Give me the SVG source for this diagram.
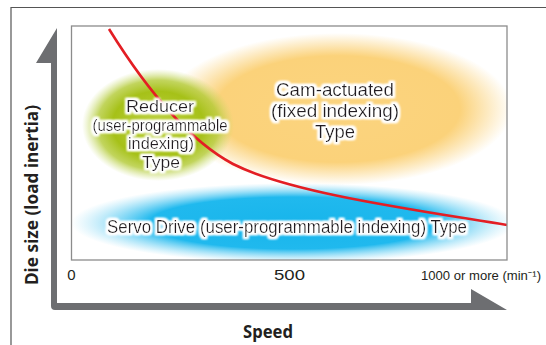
<svg xmlns="http://www.w3.org/2000/svg" width="546" height="345" viewBox="0 0 546 345">
<style>
  .lbl{font-family:"Liberation Sans","Noto Sans",sans-serif;fill:#231f20;text-anchor:middle}
  .axis-t{font-family:"Noto Sans","Liberation Sans",sans-serif;font-weight:bold;fill:#231f20;text-anchor:middle}
  .tick{font-family:"Liberation Sans","Noto Sans","DejaVu Sans",sans-serif;fill:#231f20}
</style>
<defs>
  <radialGradient id="gY" cx="0.5" cy="0.5" r="0.5">
    <stop offset="0" stop-color="#fbd47f"/>
    <stop offset="0.7" stop-color="#fbd27a"/>
    <stop offset="1" stop-color="#fbd27a" stop-opacity="0"/>
  </radialGradient>
  <radialGradient id="gG" cx="0.5" cy="0.5" r="0.5">
    <stop offset="0" stop-color="#c0d346"/>
    <stop offset="0.6" stop-color="#a6c118"/>
    <stop offset="0.8" stop-color="#b2ca34" stop-opacity="0.8"/>
    <stop offset="1" stop-color="#c8db6a" stop-opacity="0"/>
  </radialGradient>
  <radialGradient id="gB" cx="0.5" cy="0.5" r="0.5">
    <stop offset="0" stop-color="#18b5eb"/>
    <stop offset="0.65" stop-color="#20b9ee"/>
    <stop offset="1" stop-color="#7fd6f5" stop-opacity="0"/>
  </radialGradient>
  <clipPath id="plotClip"><rect x="71.5" y="26" width="435.5" height="234"/></clipPath>
  <filter id="glow" x="-15%" y="-40%" width="130%" height="180%">
    <feMorphology in="SourceAlpha" operator="dilate" radius="1.5" result="d"/>
    <feGaussianBlur in="d" stdDeviation="1.3" result="b"/>
    <feFlood flood-color="#ffffff"/>
    <feComposite in2="b" operator="in" result="w"/>
    <feMerge><feMergeNode in="w"/><feMergeNode in="w"/><feMergeNode in="SourceGraphic"/></feMerge>
  </filter>
</defs>

<rect width="546" height="345" fill="#ffffff"/>

<g id="frame" stroke="#555" stroke-width="1.2" fill="none">
  <path d="M11,345 L11,7.5 L546,7.5"/>
</g>

<g id="plot-area">
  <rect x="71.5" y="26" width="435.5" height="234" fill="#ffffff"/>
</g>

<g id="regions" clip-path="url(#plotClip)">
  <ellipse id="cam-region" cx="338" cy="109" rx="174" ry="76" fill="url(#gY)"/>
  <ellipse id="reducer-region" cx="158" cy="125" rx="76" ry="56" fill="url(#gG)"/>
  <ellipse id="servo-region" cx="293" cy="223" rx="222" ry="40" fill="url(#gB)"/>
</g>

<g id="connectors">
  <path id="limit-curve" d="M109,29 C150,95 192,142 233,164 C290,193 416,210 507,225" fill="none" stroke="#e31e24" stroke-width="2.6" clip-path="url(#plotClip)"/>
</g>

<g id="plot-border">
  <rect x="71.5" y="26" width="435.5" height="234" fill="none" stroke="#8c8c8c" stroke-width="1.3"/>
</g>

<g id="node-reducer" filter="url(#glow)">
  <text class="lbl" x="160" y="112" font-size="16.5" textLength="68" lengthAdjust="spacingAndGlyphs">Reducer</text>
  <text class="lbl" x="160" y="131" font-size="16.5" textLength="135" lengthAdjust="spacingAndGlyphs">(user-programmable</text>
  <text class="lbl" x="161" y="149" font-size="16.5" textLength="66" lengthAdjust="spacingAndGlyphs">indexing)</text>
  <text class="lbl" x="161" y="168" font-size="16.5" textLength="38" lengthAdjust="spacingAndGlyphs">Type</text>
</g>

<g id="node-cam" filter="url(#glow)">
  <text class="lbl" x="335" y="96" font-size="18" textLength="118" lengthAdjust="spacingAndGlyphs">Cam-actuated</text>
  <text class="lbl" x="335" y="117" font-size="18" textLength="128" lengthAdjust="spacingAndGlyphs">(fixed indexing)</text>
  <text class="lbl" x="335" y="138" font-size="18" textLength="40" lengthAdjust="spacingAndGlyphs">Type</text>
</g>

<g id="node-servo" filter="url(#glow)">
  <text class="lbl" x="287" y="233" font-size="18" textLength="360" lengthAdjust="spacingAndGlyphs">Servo Drive (user-programmable indexing) Type</text>
</g>

<g id="axes">
  <path d="M57,28 L57,303 L471,303 L471,289 L507,310 L55,310 Q51,310 51,306 L51,63 L36,63 Z" fill="#6d6e71"/>
  <text class="axis-t" transform="translate(37.5,195) rotate(-90)" font-size="17.5" textLength="180" lengthAdjust="spacingAndGlyphs">Die size (load inertia)</text>
  <text class="axis-t" x="268" y="338" font-size="18" textLength="50" lengthAdjust="spacingAndGlyphs">Speed</text>
</g>

<g id="ticks">
  <text class="tick" x="71.5" y="280" font-size="15" text-anchor="middle">0</text>
  <text class="tick" x="289.5" y="280" font-size="15" text-anchor="middle" textLength="31" lengthAdjust="spacingAndGlyphs">500</text>
  <text class="tick" x="421" y="280" font-size="13" textLength="120" lengthAdjust="spacingAndGlyphs">1000 or more (min⁻¹)</text>
</g>
</svg>
